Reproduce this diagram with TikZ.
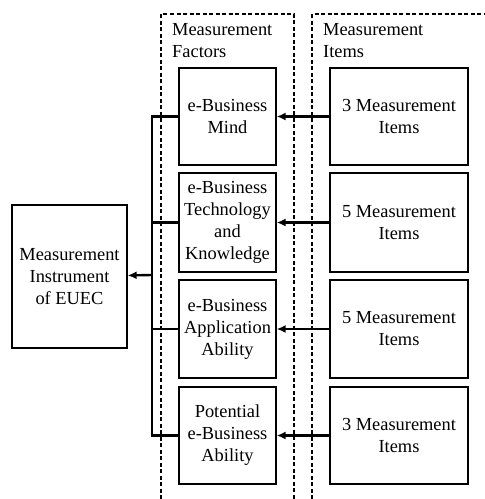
\documentclass[tikz,border=0pt]{standalone}
\usepackage{fontspec}
\setmainfont{Liberation Serif}
\usetikzlibrary{arrows.meta}
\tikzset{
  box/.style={draw,line width=1.3pt,align=center,inner sep=0pt,
    font=\fontsize{18.4}{22}\selectfont},
  factor/.style={box,minimum width=97pt,minimum height=97pt},
  itembox/.style={box,minimum width=138pt,minimum height=97pt},
  group/.style={line width=1.1pt,dash pattern=on 4pt off 2.5pt},
  head/.style={anchor=north west,align=left,inner sep=0pt,
    font=\fontsize{18.4}{22}\selectfont},
  conn/.style={line width=2.4pt},
  arr/.style={conn,-{Latex[length=9pt,width=8pt]}}
}
\begin{document}
\begin{tikzpicture}[x=1pt,y=-1pt]
  \useasboundingbox (0,0) rectangle (485,499);

  % dashed groups
  \draw[group] (161,499) -- (161,14) -- (294,14) -- (294,499);
  \draw[group] (312,499) -- (312,14) -- (485,14);
  \node[head] (fhead) at (172,23) {Measurement\\Factors};
  \node[head] (ihead) at (323,23) {Measurement\\Items};

  \node[box,minimum width=115pt,minimum height=143pt] (instr) at (69.5,276.5)
    {Measurement\\Instrument\\of EUEC};

  \node[factor] (f1) at (227.5,116.5) {e-Business\\Mind};
  \node[factor,minimum height=99pt] (f2) at (227.5,222.5) {e-Business\\Technology\\and\\Knowledge};
  \node[factor,minimum height=98pt] (f3) at (227.5,329) {e-Business\\Application\\Ability};
  \node[factor] (f4) at (227.5,435.5) {Potential\\e-Business\\Ability};

  \node[itembox] (i1) at (399,116.5) {3 Measurement\\Items};
  \node[itembox,minimum height=99pt] (i2) at (399,222.5) {5 Measurement\\Items};
  \node[itembox,minimum height=98pt] (i3) at (399,329) {5 Measurement\\Items};
  \node[itembox] (i4) at (399,435.5) {3 Measurement\\Items};

  \foreach \n in {1,...,4}
    \draw[arr] (i\n) -- (f\n);

  \coordinate (bus) at (152,275);
  \draw[conn] (f1.west) -- (f1.west -| bus) -- (f4.west -| bus) -- (f4.west);
  \foreach \n in {2,3}
    \draw[conn] (f\n.west) -- (f\n.west -| bus);
  \draw[arr] (bus) -- (instr);

\end{tikzpicture}
\end{document}
